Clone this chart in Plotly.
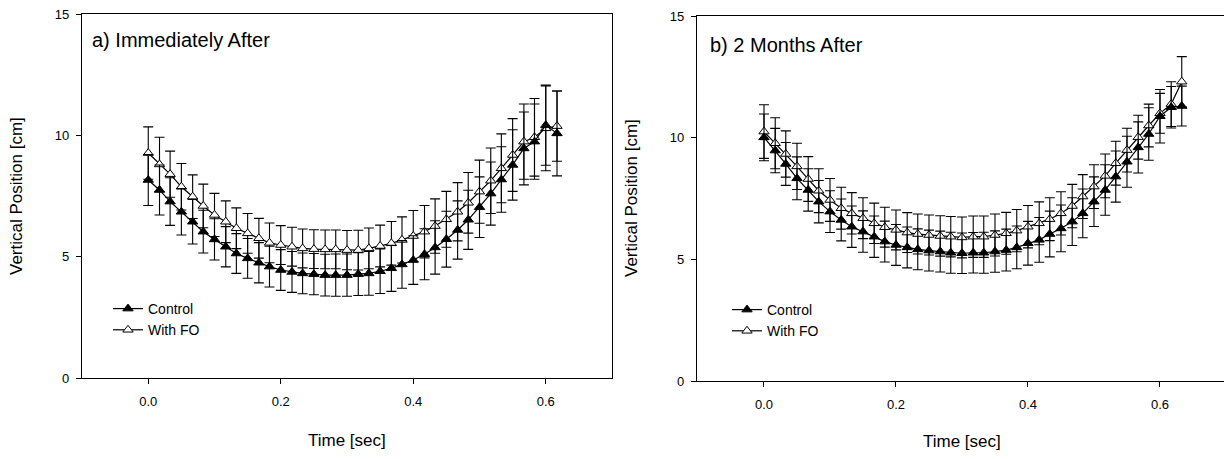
'''
Vertical position over time, control vs. with FO, two follow-up moments.
'''

import plotly.graph_objects as go

TIME_A = [0.000, 0.017, 0.033, 0.050, 0.067, 0.083, 0.100, 0.117, 0.133, 0.150,
          0.167, 0.183, 0.200, 0.217, 0.233, 0.250, 0.267, 0.283, 0.300, 0.317,
          0.333, 0.350, 0.367, 0.383, 0.400, 0.417, 0.433, 0.450, 0.467, 0.483,
          0.500, 0.517, 0.533, 0.550, 0.567, 0.583, 0.600, 0.617]

CONTROL_A = [8.16, 7.75, 7.27, 6.85, 6.44, 6.03, 5.71, 5.41, 5.13, 4.93,
             4.75, 4.59, 4.45, 4.37, 4.31, 4.28, 4.24, 4.24, 4.24, 4.28,
             4.31, 4.40, 4.52, 4.68, 4.86, 5.10, 5.38, 5.72, 6.10, 6.52,
             7.04, 7.60, 8.18, 8.78, 9.46, 9.74, 10.42, 10.08]
CONTROL_A_ERR = [1.05, 1.03, 0.98, 0.96, 0.92, 0.88, 0.85, 0.83, 0.82, 0.82,
                 0.83, 0.84, 0.84, 0.84, 0.84, 0.85, 0.86, 0.87, 0.87, 0.88,
                 0.90, 0.92, 0.95, 0.98, 1.00, 1.05, 1.10, 1.15, 1.20, 1.22,
                 1.25, 1.30, 1.35, 1.45, 1.50, 1.55, 1.65, 1.75]

FO_A = [9.27, 8.80, 8.40, 7.88, 7.47, 7.09, 6.72, 6.44, 6.17, 5.96,
        5.76, 5.57, 5.48, 5.41, 5.34, 5.31, 5.30, 5.30, 5.27, 5.27,
        5.34, 5.44, 5.55, 5.69, 5.85, 6.03, 6.26, 6.54, 6.85, 7.22,
        7.68, 8.13, 8.64, 9.19, 9.74, 9.92, 10.29, 10.38]
FO_A_ERR = [1.08, 1.12, 0.95, 0.96, 0.90, 0.90, 0.89, 0.86, 0.84, 0.82,
            0.82, 0.82, 0.80, 0.80, 0.80, 0.80, 0.80, 0.80, 0.81, 0.82,
            0.84, 0.86, 0.90, 0.95, 1.05, 1.08, 1.12, 1.15, 1.20, 1.25,
            1.30, 1.35, 1.42, 1.50, 1.55, 1.60, 1.75, 1.45]

TIME_B = TIME_A + [0.633]

CONTROL_B = [10.01, 9.47, 8.92, 8.33, 7.85, 7.37, 6.96, 6.62, 6.34, 6.14,
             5.93, 5.73, 5.59, 5.49, 5.41, 5.36, 5.32, 5.27, 5.25, 5.27,
             5.27, 5.32, 5.38, 5.49, 5.66, 5.80, 6.04, 6.27, 6.55, 6.89,
             7.37, 7.85, 8.40, 9.01, 9.60, 10.15, 10.88, 11.25, 11.30]
CONTROL_B_ERR = [0.96, 0.91, 0.88, 0.88, 0.87, 0.87, 0.86, 0.86, 0.85, 0.85,
                 0.85, 0.84, 0.84, 0.84, 0.84, 0.84, 0.84, 0.84, 0.83, 0.83,
                 0.84, 0.85, 0.86, 0.88, 0.90, 0.92, 0.94, 0.96, 0.98, 1.00,
                 1.02, 1.04, 1.05, 1.05, 1.05, 1.08, 1.10, 0.85, 0.82]

FO_B = [10.25, 9.77, 9.33, 8.82, 8.30, 7.82, 7.44, 7.10, 6.89, 6.69,
        6.48, 6.32, 6.21, 6.10, 6.04, 6.00, 5.96, 5.93, 5.90, 5.93,
        5.93, 6.00, 6.07, 6.18, 6.34, 6.48, 6.65, 6.89, 7.19, 7.58,
        7.99, 8.43, 8.95, 9.49, 10.02, 10.50, 11.00, 11.38, 12.30]
FO_B_ERR = [1.10, 1.05, 0.95, 0.95, 0.92, 0.90, 0.88, 0.86, 0.85, 0.84,
            0.83, 0.82, 0.82, 0.82, 0.82, 0.82, 0.83, 0.83, 0.84, 0.85,
            0.85, 0.86, 0.86, 0.87, 0.87, 0.88, 0.88, 0.89, 0.89, 0.90,
            0.90, 0.90, 0.90, 0.90, 0.90, 0.88, 0.82, 0.92, 1.03]

X_TICKS = [0.0, 0.2, 0.4, 0.6]
X_TICK_TEXT = ['0.0', '0.2', '0.4', '0.6']
Y_TICKS = [0, 5, 10, 15]

FONT = 'Liberation Sans, Arial, sans-serif'
W, H = 1224, 459


def series(x, y, err, name, fill, axes, legend):
    ''' one line with triangles and error bars '''
    return go.Scatter(
        x=x, y=y, name=name, mode='lines+markers',
        xaxis=axes[0], yaxis=axes[1], legend=legend,
        line={'color': 'black', 'width': 1.2},
        marker={'symbol': 'triangle-up', 'size': 9, 'color': fill,
                'line': {'color': 'black', 'width': 1}},
        error_y={'type': 'data', 'array': err, 'visible': True,
                 'color': 'black', 'thickness': 1.1, 'width': 5})


fig = go.Figure()
fig.add_trace(series(TIME_A, FO_A, FO_A_ERR, 'With FO', 'white', ('x', 'y'), 'legend'))
fig.add_trace(series(TIME_A, CONTROL_A, CONTROL_A_ERR, 'Control', 'black', ('x', 'y'), 'legend'))
fig.add_trace(series(TIME_B, FO_B, FO_B_ERR, 'With FO', 'white', ('x2', 'y2'), 'legend2'))
fig.add_trace(series(TIME_B, CONTROL_B, CONTROL_B_ERR, 'Control', 'black', ('x2', 'y2'), 'legend2'))

axis_common = dict(showgrid=False, zeroline=False, showline=True, linecolor='black',
                   linewidth=1.3, ticks='outside', ticklen=5, tickcolor='black',
                   automargin=False,
                   tickfont={'size': 13, 'color': 'black', 'family': FONT})

legend_common = dict(xanchor='left', yanchor='top', traceorder='reversed',
                     bgcolor='rgba(0,0,0,0)', itemwidth=30, tracegroupgap=0,
                     font={'size': 14, 'family': FONT, 'color': 'black'})

fig.update_layout(
    template='none',
    width=W, height=H, margin={'l': 0, 'r': 0, 't': 0, 'b': 0, 'pad': 0},
    paper_bgcolor='white', plot_bgcolor='white',
    font={'family': FONT, 'color': 'black'},
    xaxis=dict(axis_common, domain=[82 / W, 612 / W], range=[-0.1, 0.7], mirror=True,
               tickvals=X_TICKS, ticktext=X_TICK_TEXT, ticklabelstandoff=6, anchor='y'),
    yaxis=dict(axis_common, domain=[(H - 378) / H, (H - 14) / H], range=[0, 15], mirror=True,
               tickvals=Y_TICKS, ticklabelstandoff=4, anchor='x'),
    xaxis2=dict(axis_common, domain=[697 / W, 1.0], range=[-0.1015, 0.697], mirror=True,
                tickvals=X_TICKS, ticktext=X_TICK_TEXT, ticklabelstandoff=6, anchor='y2'),
    yaxis2=dict(axis_common, domain=[(H - 381) / H, (H - 16) / H], range=[0, 15],
                tickvals=Y_TICKS, ticklabelstandoff=4, anchor='x2'),
    legend=dict(legend_common, x=108 / W, y=1 - 293 / H),
    legend2=dict(legend_common, x=727 / W, y=1 - 294 / H),
)

labels = [
    ('a) Immediately After', 90, 40, 20, 0, 'left'),
    ('b) 2 Months After', 708, 45, 20, 0, 'left'),
    ('Vertical Position [cm]', 17, 196, 17, -90, 'center'),
    ('Vertical Position [cm]', 631, 198, 17, -90, 'center'),
    ('Time [sec]', 347, 440, 17, 0, 'center'),
    ('Time [sec]', 962, 441, 17, 0, 'center'),
]
for text, px_x, px_y, size, angle, anchor in labels:
    fig.add_annotation(text=text, x=px_x / W, y=1 - px_y / H, xref='paper', yref='paper',
                       xanchor=anchor, yanchor='middle', showarrow=False, textangle=angle,
                       font={'size': size, 'family': FONT, 'color': 'black'})

# page body has a default 8px margin; drop it so the figure sits at the corner
fig.write_html('out.html', config={'displayModeBar': False},
               post_script="document.body.style.margin = '0';")
